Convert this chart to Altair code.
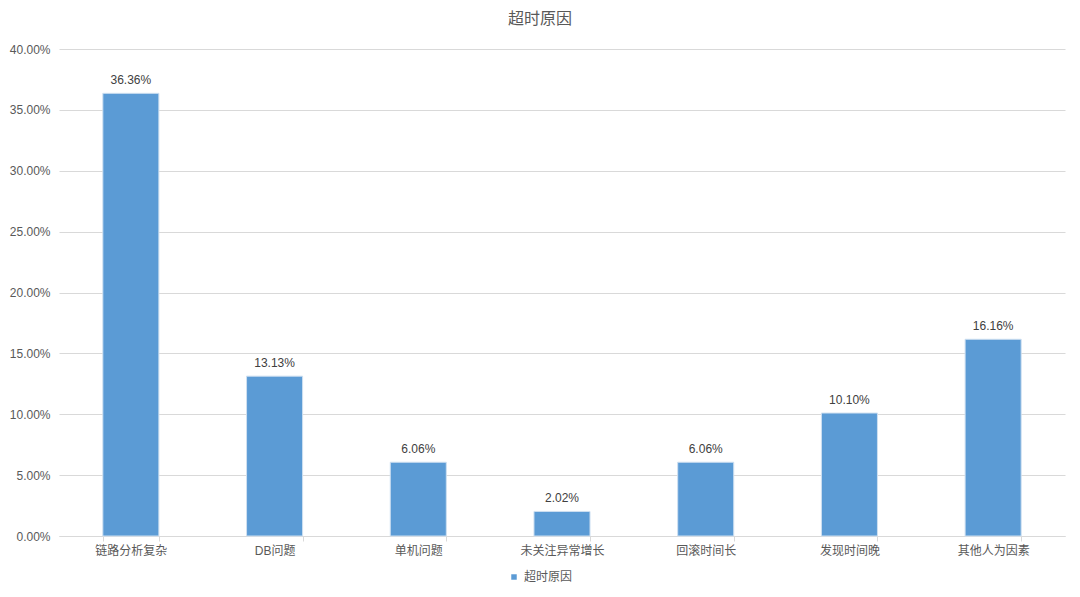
import altair as alt
import pandas as pd

categories = ["链路分析复杂", "DB问题", "单机问题", "未关注异常增长", "回滚时间长", "发现时间晚", "其他人为因素"]
values = [0.3636, 0.1313, 0.0606, 0.0202, 0.0606, 0.1010, 0.1616]
series = "超时原因"

df = pd.DataFrame({"cat": categories, "val": values, "series": [series] * len(categories)})

FONT = "Liberation Sans, Noto Sans CJK SC, sans-serif"

base = alt.Chart(df).encode(
    x=alt.X("cat:N", sort=categories, title=None,
            scale=alt.Scale(paddingInner=0.61, paddingOuter=0.305),
            axis=alt.Axis(labelAngle=0, tickBand="extent", domainColor="#d9d9d9",
                          tickColor="#d9d9d9", tickSize=5, labelColor="#595959",
                          labelFontSize=12, labelFont=FONT, labelPadding=4, grid=False)),
    y=alt.Y("val:Q", title=None,
            scale=alt.Scale(domain=[0, 0.4], nice=False),
            axis=alt.Axis(format=".2%", values=[0, 0.05, 0.1, 0.15, 0.2, 0.25, 0.3, 0.35, 0.4],
                          domain=False, ticks=False, gridColor="#d9d9d9",
                          labelColor="#595959", labelFontSize=12, labelFont=FONT,
                          labelPadding=9)),
)

bars = base.mark_bar(stroke="#cfe0f1", strokeWidth=1).encode(
    color=alt.Color("series:N", title=None,
                    scale=alt.Scale(range=["#5b9bd5"]),
                    legend=alt.Legend(orient="none", legendX=449, legendY=522,
                                      symbolType="square", symbolSize=30,
                                      labelColor="#595959", labelFontSize=12,
                                      labelFont=FONT, symbolStrokeWidth=0))
)

labels = base.mark_text(dy=-6, baseline="bottom", fontSize=12, color="#404040", font=FONT).encode(
    text=alt.Text("val:Q", format=".2%")
)

chart = (bars + labels).properties(
    width=1006, height=487,
    title=alt.TitleParams(series, fontSize=16, color="#595959", font=FONT,
                          fontWeight="normal", dx=-22, offset=16),
    autosize=alt.AutoSizeParams(type="none"),
    padding={"left": 51, "top": 41, "right": 6, "bottom": 52},
).configure_view(stroke=None)

chart.save("out.html", embed_options={"renderer": "svg", "actions": False})
